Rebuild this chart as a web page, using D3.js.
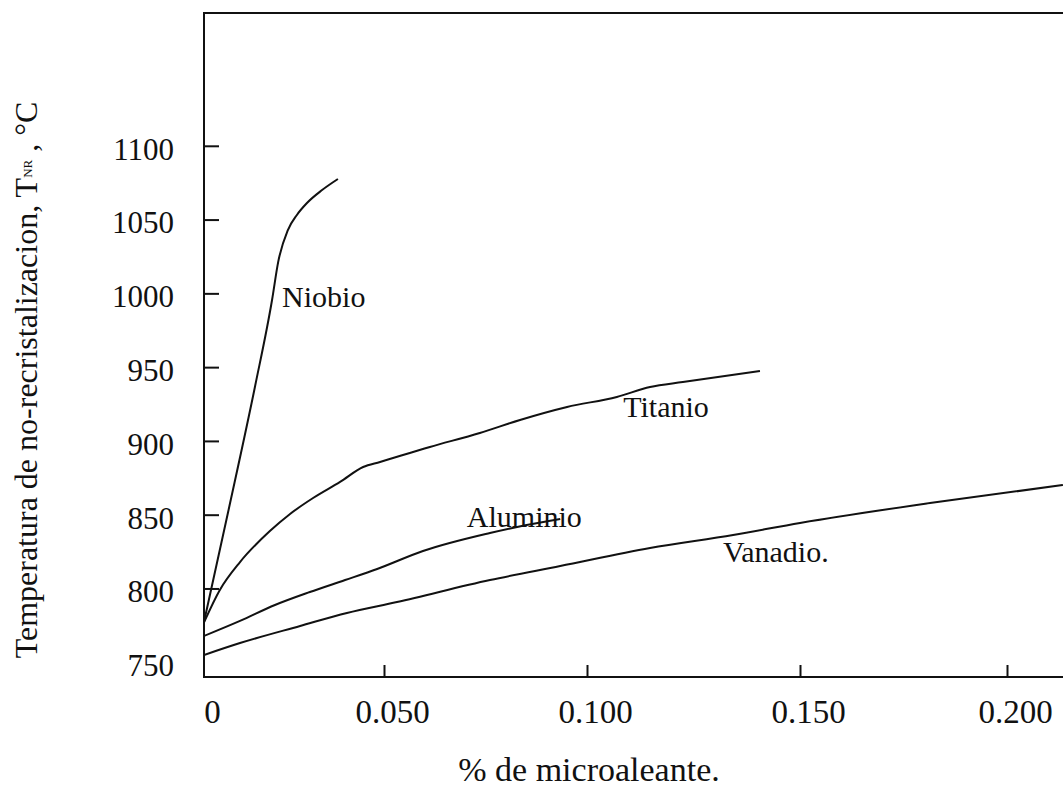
<!DOCTYPE html>
<html>
<head>
<meta charset="utf-8">
<script src="https://cdn.jsdelivr.net/npm/d3@7"></script>
<style>
  body { margin: 0; background: #fff; }
  svg { display: block; }
  text { font-family: "Liberation Serif", "Times New Roman", serif; fill: #111; }
</style>
</head>
<body>
<svg id="chart" width="1063" height="787"></svg>
<script>
// Non-recrystallization temperature vs. micro-alloying content

// axis ticks
const xTickValues = [0, 0.05, 0.1, 0.15, 0.2];
const xTickLabels = ["0", "0.050", "0.100", "0.150", "0.200"];
const yTickValues = [750, 800, 850, 900, 950, 1000, 1050, 1100];

// curves: [% micro-alloying element, T_NR in °C]
const niobio = [
  [0, 777.3], [0.0067, 851.8], [0.0142, 937.2], [0.0189, 995.5],
  [0.0206, 1021.2], [0.0233, 1042.9], [0.0258, 1053.1], [0.0286, 1061.2],
  [0.0328, 1070], [0.0372, 1077.5]
];
const titanio = [
  [0, 777], [0.0044, 799], [0.0100, 817.9], [0.0183, 838.9], [0.0239, 850.5],
  [0.0303, 861.3], [0.0378, 872.2], [0.0442, 882.3], [0.0489, 885.7],
  [0.0613, 895.9], [0.0736, 905.4], [0.0835, 914.2], [0.0951, 923],
  [0.1070, 929.8], [0.1148, 936.5], [0.1225, 939.9], [0.1406, 947.4]
];
const aluminio = [
  [0, 767.8], [0.0100, 778], [0.0197, 788.8], [0.0294, 797.6], [0.0392, 805.7],
  [0.0481, 813.2], [0.0596, 825.4], [0.0761, 837.6], [0.0828, 841.7],
  [0.0934, 847.1]
];
const vanadio = [
  [0, 754.9], [0.0100, 763], [0.0267, 774.6], [0.0397, 783.4], [0.0532, 790.8],
  [0.0761, 805.7], [0.0934, 815.2], [0.1148, 827.4], [0.1343, 836.2],
  [0.15, 844.4], [0.1814, 857.9], [0.2135, 870.1]
];

// curve names and where they sit (data units, text start / baseline)
const curveLabels = [
  { name: "Niobio",   x: 0.0217, y: 990.7 },
  { name: "Titanio",  x: 0.1085, y: 916.2 },
  { name: "Aluminio", x: 0.0704, y: 841.7 },
  { name: "Vanadio.", x: 0.1319, y: 817.9 }
];

const series = [niobio, titanio, aluminio, vanadio];

const svg = d3.select("#chart");
const ink = "#111";

const plotLeft = 204, plotTop = 13, plotBottom = 677, plotRight = 1110;

// the printed x axis is not evenly spaced, so the scale follows its ticks
const x = d3.scaleLinear()
  .domain(xTickValues)
  .range([204, 384, 587, 800, 1007]);

const y = d3.scaleLinear()
  .domain([740, 1190])
  .range([plotBottom, plotTop]);

svg.append("defs").append("clipPath").attr("id", "plot")
  .append("rect")
  .attr("x", plotLeft).attr("y", plotTop)
  .attr("width", plotRight - plotLeft).attr("height", plotBottom - plotTop);

// frame
svg.append("rect")
  .attr("x", plotLeft).attr("y", plotTop)
  .attr("width", plotRight - plotLeft).attr("height", plotBottom - plotTop)
  .attr("fill", "none").attr("stroke", ink).attr("stroke-width", 2);

// y axis: inward ticks, labels on the left
const yAxis = d3.axisLeft(y)
  .tickValues(yTickValues)
  .tickSize(-15)
  .tickPadding(30)
  .tickFormat(d3.format("d"));

const gy = svg.append("g").attr("transform", `translate(${plotLeft},0)`).call(yAxis);
gy.select(".domain").remove();
gy.selectAll(".tick line").attr("stroke", ink).attr("stroke-width", 2)
  .filter(d => d === 750).remove();
gy.selectAll(".tick text")
  .attr("y", 3.5)
  .style("font-family", '"Liberation Serif", serif')
  .style("font-size", "31px")
  .attr("fill", ink);

// x axis: upward ticks, labels below
const xAxis = d3.axisBottom(x)
  .tickValues(xTickValues)
  .tickSize(-12)
  .tickPadding(22.6)
  .tickFormat((d, i) => xTickLabels[i]);

const gx = svg.append("g").attr("transform", `translate(0,${plotBottom})`).call(xAxis);
gx.select(".domain").remove();
gx.selectAll(".tick line").attr("stroke", ink).attr("stroke-width", 2)
  .filter(d => d === 0).remove();
gx.selectAll(".tick text")
  .attr("dx", 8)
  .style("font-family", '"Liberation Serif", serif')
  .style("font-size", "33px")
  .attr("fill", ink);

// curves
const line = d3.line()
  .x(d => x(d[0]))
  .y(d => y(d[1]))
  .curve(d3.curveMonotoneX);

svg.append("g").attr("clip-path", "url(#plot)")
  .selectAll("path")
  .data(series)
  .join("path")
  .attr("d", line)
  .attr("fill", "none")
  .attr("stroke", ink)
  .attr("stroke-width", 2)
  .attr("stroke-linejoin", "round");

// curve names
svg.append("g")
  .selectAll("text")
  .data(curveLabels)
  .join("text")
  .attr("x", d => x(d.x))
  .attr("y", d => y(d.y))
  .style("font-size", "30px")
  .text(d => d.name);

// axis titles
svg.append("text")
  .attr("x", 589).attr("y", 781)
  .attr("text-anchor", "middle")
  .style("font-size", "34px")
  .text("% de microaleante.");

const yt = svg.append("text")
  .attr("transform", "translate(37,380) rotate(-90)")
  .attr("text-anchor", "middle")
  .style("font-size", "32px");
yt.append("tspan").text("Temperatura de no-recristalizacion, T");
yt.append("tspan").attr("dy", -5).style("font-size", "13px").text("NR");
yt.append("tspan").attr("dy", 5).text(" , °C");
</script>
</body>
</html>
